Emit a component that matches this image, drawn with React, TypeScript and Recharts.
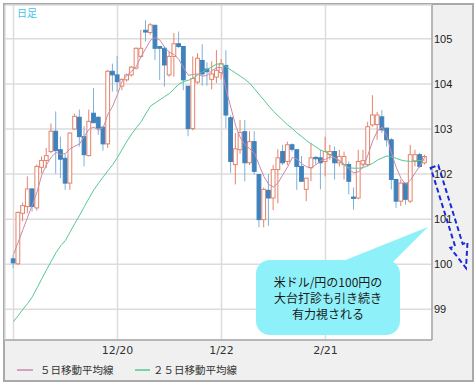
import { Bar, CartesianGrid, ComposedChart, Line, XAxis, YAxis } from "recharts";

// daily USD/JPY candles (index 0 = first candle)
const openPrices = [
  100.12, 100.01, 101.13, 101.28, 101.67, 101.25, 102.15, 102.3, 102.5, 102.95,
  102.54, 102.35, 101.8, 103.0, 103.26, 102.83, 102.41, 103.35, 103.26, 103.04,
  102.67, 104.28, 104.2, 103.95, 104.09, 104.2, 104.35, 104.61, 105.19, 105.14,
  105.3, 104.83, 104.79, 104.2, 104.61, 104.89, 104.83, 103.95, 103.01, 104.04,
  104.52, 104.33, 104.1, 104.15, 104.25, 104.41, 103.25, 102.21, 102.54, 102.94,
  102.25, 102.72, 101.99, 100.99, 101.64, 101.47, 102.1, 102.5, 102.28, 102.65,
  102.54, 102.17, 101.66, 102.14, 102.37, 102.36, 102.28, 102.43, 102.5, 102.25,
  102.21, 102.21, 101.49, 101.47, 102.22, 102.21, 103.09, 103.1, 103.27, 103.02,
  102.76, 101.88, 101.4, 101.8, 101.4, 102.28, 102.43, 102.25,
];
const highPrices = [
  100.21, 101.17, 101.37, 101.95, 101.69, 102.21, 102.39, 102.58, 103.12, 103.39,
  102.83, 102.46, 102.92, 103.34, 103.43, 103.06, 103.43, 103.91, 103.28, 103.06,
  104.31, 104.45, 104.62, 104.12, 104.23, 104.4, 104.81, 105.2, 105.41, 105.35,
  105.31, 104.84, 104.83, 104.72, 105.13, 105.16, 104.84, 103.95, 104.61, 104.68,
  104.88, 104.48, 104.5, 104.75, 104.55, 104.75, 103.3, 102.91, 103.2, 103.2,
  102.95, 102.95, 101.99, 101.7, 102.0, 102.2, 102.55, 102.65, 102.72, 102.68,
  102.54, 102.4, 101.91, 102.69, 102.4, 102.54, 102.83, 102.65, 102.61, 102.54,
  102.5, 102.28, 101.7, 102.54, 102.54, 103.16, 103.75, 103.38, 103.42, 103.02,
  102.8, 101.88, 101.88, 101.8, 102.65, 102.54, 102.47, 102.43,
];
const lowPrices = [
  99.91, 99.98, 100.95, 101.13, 101.17, 101.19, 102.02, 102.13, 102.46, 102.01,
  101.91, 101.65, 101.65, 102.98, 102.61, 102.17, 102.39, 103.13, 102.87, 102.52,
  102.58, 103.83, 103.83, 103.86, 104.05, 104.16, 104.32, 104.57, 104.94, 105.09,
  104.53, 104.09, 103.94, 104.16, 104.16, 104.79, 103.86, 102.84, 102.97, 104.0,
  103.96, 103.96, 103.88, 104.02, 104.1, 103.02, 102.03, 101.77, 102.45, 101.84,
  102.2, 101.98, 100.82, 100.82, 100.85, 101.2, 101.35, 102.2, 102.2, 102.5,
  101.65, 101.84, 101.4, 101.84, 102.22, 101.66, 101.95, 102.32, 101.88, 102.17,
  101.88, 101.55, 101.21, 101.44, 102.17, 102.17, 103.05, 102.76, 102.91, 102.61,
  101.66, 101.25, 101.29, 101.32, 101.36, 102.17, 102.13, 102.21,
];
const closePrices = [
  100.03, 101.15, 101.3, 101.67, 101.28, 102.17, 102.3, 102.41, 102.95, 102.52,
  102.33, 101.8, 102.91, 103.28, 102.83, 102.43, 103.17, 103.14, 103.02, 102.67,
  104.28, 104.2, 104.05, 104.1, 104.2, 104.37, 104.79, 104.79, 105.15, 105.31,
  104.79, 104.79, 104.42, 104.61, 104.89, 104.83, 104.09, 103.01, 104.12, 104.57,
  104.22, 104.27, 104.22, 104.3, 104.45, 103.31, 102.28, 102.56, 102.92, 102.25,
  102.72, 102.06, 100.99, 101.66, 101.47, 102.1, 102.36, 102.25, 102.65, 102.55,
  102.17, 101.84, 101.91, 102.36, 102.34, 102.25, 102.5, 102.5, 102.25, 102.39,
  102.39, 101.84, 101.46, 102.28, 102.3, 103.05, 103.31, 103.31, 102.98, 102.76,
  101.88, 101.4, 101.8, 101.44, 102.43, 102.43, 102.17, 102.39,
];
const ma5Values = [
  100.22, 100.49, 100.77, 101.05, 101.32, 101.61, 101.99, 102.21, 102.38, 102.48,
  102.43, 102.46, 102.56, 102.62, 102.67, 102.84, 103.0, 103.04, 102.97, 103.04,
  103.33, 103.51, 103.77, 104.06, 104.19, 104.28, 104.39, 104.61, 104.79, 104.97,
  105.03, 104.97, 104.81, 104.7, 104.65, 104.54, 104.35, 104.19, 104.21, 104.22,
  104.17, 104.19, 104.3, 104.36, 104.37, 103.86, 103.47, 103.07, 102.8, 102.65,
  102.56, 102.46, 102.19, 101.94, 101.77, 101.71, 101.81, 101.99, 102.16, 102.37,
  102.33, 102.23, 102.16, 102.14, 102.21, 102.3, 102.33, 102.38, 102.36, 102.3,
  102.21, 102.1, 102.03, 102.05, 102.17, 102.43, 102.74, 102.96, 103.04, 102.83,
  102.45, 102.14, 101.9, 101.77, 101.87, 102.03, 102.19, 102.38,
];
const ma25Values = [
  98.73, 98.86, 99.0, 99.13, 99.28, 99.48, 99.68, 99.88, 100.07, 100.26,
  100.41, 100.53, 100.72, 100.91, 101.09, 101.28, 101.47, 101.65, 101.8, 101.94,
  102.08, 102.21, 102.37, 102.55, 102.73, 102.89, 103.03, 103.16, 103.34, 103.51,
  103.58, 103.65, 103.72, 103.79, 103.89, 104.0, 104.05, 104.08, 104.13, 104.2,
  104.27, 104.32, 104.38, 104.44, 104.44, 104.38, 104.31, 104.24, 104.17, 104.1,
  104.01, 103.89, 103.76, 103.64, 103.51, 103.39, 103.29, 103.19, 103.09, 103.01,
  102.91, 102.83, 102.74, 102.67, 102.6, 102.53, 102.49, 102.43, 102.36, 102.28,
  102.21, 102.14, 102.13, 102.13, 102.14, 102.19, 102.24, 102.31, 102.36, 102.4,
  102.38, 102.35, 102.31, 102.29, 102.28, 102.3, 102.3, 102.31,
];

const xTickIndex = [0, 22, 44, 66];
const xTickLabels = ["", "12/20", "1/22", "2/21"];
const yTicks = [99, 100, 101, 102, 103, 104, 105];
const legendLabels = ["５日移動平均線", "２５日移動平均線"];
const calloutLines = ["米ドル/円の100円の", "大台打診も引き続き", "有力視される"];
const periodLabel = "日足";

const upColor = "#e5836a";
const downColor = "#3f82bd";
const downWick = "#7fb1d9";
const ma5Color = "#c98aa9";
const ma25Color = "#55c98f";
const numFont = "'DejaVu Sans', sans-serif";
const yFont = "'Liberation Sans', Arial, sans-serif";
const jpFont = "'Noto Sans CJK JP', sans-serif";

const rows = openPrices.map((open, i) => ({
  i,
  open,
  high: highPrices[i],
  low: lowPrices[i],
  close: closePrices[i],
  ma5: ma5Values[i],
  ma25: ma25Values[i],
}));

// bar spans low..high, body is placed inside it by ratio
function Candle(props: any) {
  const { x, y, width, height, payload } = props;
  if (!payload || height == null) return null;
  const { open, close, high, low } = payload;
  const cx = x + width / 2;
  const toY = (v: number) => y + ((high - v) / (high - low)) * height;
  const up = close >= open;
  const top = toY(Math.max(open, close));
  const bot = toY(Math.min(open, close));
  const bw = 3.8;
  return (
    <g>
      <line x1={cx} x2={cx} y1={y} y2={y + height} stroke={up ? upColor : downWick} strokeWidth={1} />
      <rect
        x={cx - bw / 2}
        y={top}
        width={bw}
        height={Math.max(bot - top, 1)}
        fill={up ? "#fff" : downColor}
        stroke={up ? upColor : downColor}
        strokeWidth={1}
      />
    </g>
  );
}

export default function App() {
  return (
    <div style={{ position: "absolute", left: 0, top: 0, width: 476, height: 385, background: "#fff" }}>
      <div
        style={{
          position: "absolute",
          left: 3,
          top: 3,
          width: 467,
          height: 375,
          border: "2px solid #a9a9a9",
          background: "#f0f0f0",
        }}
      />
      <div style={{ position: "absolute", left: 0, top: 0 }}>
        <ComposedChart
          width={476}
          height={385}
          data={rows}
          margin={{ top: 5, left: 5, right: 4, bottom: 25 }}
        >
          <CartesianGrid stroke="#dcdcdc" strokeWidth={1.5} fill="#fff" />
          <XAxis
            dataKey="i"
            type="number"
            domain={[-1.8, 88.53]}
            allowDataOverflow
            ticks={xTickIndex}
            tickFormatter={(v: number) => xTickLabels[xTickIndex.indexOf(v)] ?? ""}
            height={20}
            tickLine={false}
            tickSize={0}
            tickMargin={6}
            axisLine={{ stroke: "#a8a8a8", strokeWidth: 1.5 }}
            tick={{ fill: "#333", fontSize: 11, fontFamily: numFont }}
          />
          <YAxis
            orientation="right"
            type="number"
            domain={[98.32, 105.75]}
            allowDataOverflow
            ticks={yTicks}
            width={40}
            tickLine={false}
            tickSize={0}
            tickMargin={2}
            axisLine={{ stroke: "#a8a8a8", strokeWidth: 1.5 }}
            tick={{ fill: "#222", fontSize: 11, fontFamily: yFont, textAnchor: "start" }}
          />
          <Bar
            dataKey={(d: any) => [d.low, d.high]}
            barSize={4}
            shape={Candle}
            isAnimationActive={false}
          />
          <Line dataKey="ma25" type="linear" stroke={ma25Color} strokeWidth={1} dot={false} isAnimationActive={false} />
          <Line dataKey="ma5" type="linear" stroke={ma5Color} strokeWidth={1} dot={false} isAnimationActive={false} />
        </ComposedChart>
      </div>

      {/* annotations: period label, callout, dashed arrow, legend */}
      <svg
        width={476}
        height={385}
        style={{ position: "absolute", left: 0, top: 0, pointerEvents: "none" }}
      >
        <text x={17} y={17} fontSize={10} fill="#45c4ee" fontFamily={jpFont}>
          {periodLabel}
        </text>

        <rect x={256} y={260} width={144} height={75} rx={14} fill="#8ef1f9" />
        <polygon points="338,263 392,263 428,227" fill="#8ef1f9" />
        {calloutLines.map((line, k) => (
          <text
            key={line}
            x={328}
            y={287 + k * 16.2}
            fontSize={12}
            textAnchor="middle"
            fill="#1a1a1a"
            fontFamily={jpFont}
          >
            {line}
          </text>
        ))}

        <polygon
          points="430.7,167.8 438.3,165.2 462.7,243.9 467.5,242.4 466,268 450.3,247.8 455.1,246.3"
          fill="none"
          stroke="#1a2ad8"
          strokeWidth={2}
          strokeDasharray="5 3"
        />

        <line x1={17} x2={33} y1={370} y2={370} stroke={ma5Color} strokeWidth={1.5} />
        <text x={40} y={374} fontSize={10.5} fill="#333" fontFamily={jpFont}>
          {legendLabels[0]}
        </text>
        <line x1={135} x2={150} y1={370} y2={370} stroke={ma25Color} strokeWidth={1.5} />
        <text x={153} y={374} fontSize={10.5} fill="#333" fontFamily={jpFont}>
          {legendLabels[1]}
        </text>
      </svg>
    </div>
  );
}
